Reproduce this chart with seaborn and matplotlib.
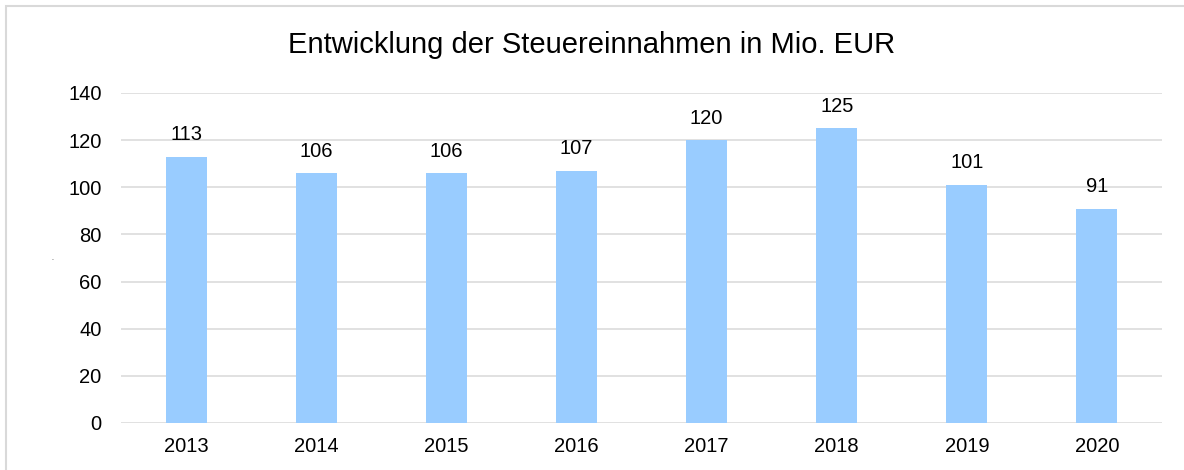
import matplotlib
matplotlib.use("Agg")
import matplotlib.pyplot as plt
from matplotlib.patches import Rectangle
import pandas as pd
import seaborn as sns

years = ["2013", "2014", "2015", "2016", "2017", "2018", "2019", "2020"]
revenue = [113, 106, 106, 107, 120, 125, 101, 91]
y_ticks = [0, 20, 40, 60, 80, 100, 120, 140]

df = pd.DataFrame({"Jahr": years, "Steuereinnahmen": revenue})

sns.set_style("white")
plt.rcParams["font.family"] = ["Liberation Sans", "DejaVu Sans"]

fig = plt.figure(figsize=(11.84, 4.70), dpi=100)
ax = fig.add_axes([121 / 1184, 47 / 470, 1041 / 1184, 330 / 470])

sns.barplot(data=df, x="Jahr", y="Steuereinnahmen", color="#99CCFF",
            saturation=1, width=0.316, linewidth=0, ax=ax, zorder=3)

ax.bar_label(ax.containers[0], padding=9, fontsize=14.5, color="#000000")

ax.set_ylim(0, 140)
ax.set_yticks(y_ticks)
ax.set_xlim(-0.5, len(years) - 0.5)
ax.grid(axis="y", color="#d9d9d9", linewidth=1.1, zorder=0)
ax.set_axisbelow(True)
for s in ax.spines.values():
    s.set_visible(False)
ax.tick_params(axis="both", length=0, labelsize=14.5, colors="#000000")
ax.tick_params(axis="y", pad=14)
ax.tick_params(axis="x", pad=10)
ax.set_xlabel("")
ax.set_ylabel("")

fig.text(0.5, 1 - 45 / 470, "Entwicklung der Steuereinnahmen in Mio. EUR",
         ha="center", va="center", fontsize=21, color="#000000")
fig.text(52 / 1184, 1 - 258 / 470, ".", ha="center", va="center", fontsize=5)

# outer chart frame
fig.patches.append(Rectangle((6 / 1184, -0.2), 1.2, 1.2 - 6 / 470,
                             transform=fig.transFigure, fill=False,
                             edgecolor="#d9d9d9", linewidth=1.5))

fig.savefig("out.png", dpi=100)
